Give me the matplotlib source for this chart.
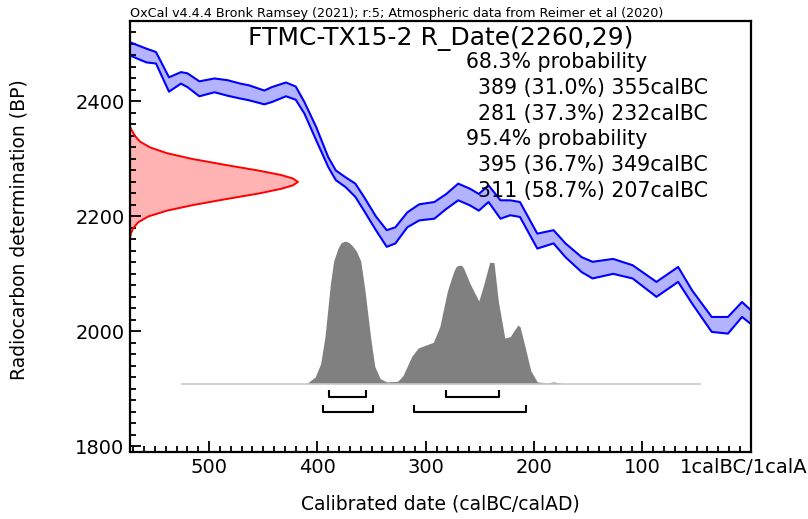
import matplotlib
matplotlib.use("Agg")
import matplotlib.pyplot as plt
import numpy as np

# calibration curve (IntCal20): calBC, upper/lower BP
cal_years = [573, 558, 549, 537, 526, 520, 509, 495, 483, 471, 463, 449, 442, 429,
             420, 412, 401, 390, 383, 374, 365, 357, 346, 336, 328, 317, 306, 292,
             281, 270, 259, 251, 242, 231, 222, 213, 197, 182, 171, 156, 146, 127,
             109, 87, 67, 54, 36, 21, 8, 0]
cal_upper = [2503, 2492, 2486, 2442, 2451, 2449, 2435, 2440, 2437, 2431, 2428, 2419,
             2425, 2433, 2426, 2399, 2355, 2303, 2280, 2268, 2257, 2234, 2200, 2176,
             2181, 2207, 2221, 2225, 2239, 2257, 2248, 2239, 2254, 2228, 2228, 2225,
             2170, 2176, 2153, 2129, 2121, 2126, 2115, 2086, 2112, 2071, 2025, 2025,
             2051, 2037]
cal_lower = [2480, 2468, 2466, 2417, 2431, 2425, 2409, 2416, 2410, 2405, 2402, 2395,
             2399, 2409, 2403, 2379, 2332, 2286, 2263, 2251, 2234, 2210, 2176, 2147,
             2153, 2181, 2193, 2196, 2213, 2228, 2219, 2210, 2225, 2196, 2202, 2199,
             2144, 2153, 2129, 2103, 2092, 2100, 2092, 2060, 2086, 2048, 1999, 1996,
             2025, 2013]

# radiocarbon measurement R_Date(2260,29): BP and relative probability
c14_bp = [2356, 2350, 2340, 2330, 2320, 2310, 2300, 2290, 2280, 2272, 2266, 2260,
          2254, 2248, 2240, 2230, 2220, 2210, 2200, 2190, 2180, 2170, 2162]
c14_prob = [0.0, 0.01, 0.03, 0.06, 0.12, 0.22, 0.37, 0.56, 0.76, 0.90, 0.97, 1.0,
            0.97, 0.90, 0.77, 0.57, 0.38, 0.22, 0.11, 0.05, 0.02, 0.005, 0.0]

# calibrated probability distribution: calBC and relative probability
post_years = [525, 410, 402, 397, 393, 388, 385, 381, 378, 374, 371, 368, 364, 360,
              356, 351, 347, 342, 336, 326, 321, 313, 307, 300, 293, 287, 280, 274,
              272, 270, 267, 265, 259, 251, 247, 241, 237, 233, 227, 222, 215, 213,
              209, 203, 197, 188, 182, 173, 47]
post_prob = [0.0, 0.0, 0.047, 0.14, 0.33, 0.70, 0.86, 0.95, 0.99, 1.0, 0.99, 0.97,
             0.93, 0.86, 0.65, 0.33, 0.12, 0.035, 0.012, 0.016, 0.056, 0.19, 0.25,
             0.27, 0.29, 0.40, 0.65, 0.79, 0.82, 0.83, 0.83, 0.81, 0.70, 0.58, 0.68,
             0.85, 0.85, 0.58, 0.32, 0.33, 0.41, 0.40, 0.28, 0.09, 0.012, 0.005,
             0.012, 0.0, 0.0]

# ranges (from, to) calBC
ranges_68 = [(389, 355), (281, 232)]
ranges_95 = [(395, 349), (311, 207)]

summary_lines = ["68.3% probability",
                 "389 (31.0%) 355calBC",
                 "281 (37.3%) 232calBC",
                 "95.4% probability",
                 "395 (36.7%) 349calBC",
                 "311 (58.7%) 207calBC"]

x_left, x_right = 573, 0
y_bottom, y_top = 1790, 2540

fig = plt.figure(figsize=(8.08, 5.19), dpi=100)
ax = fig.add_axes([130 / 808, 67 / 519, 620.7 / 808, 431 / 519])

# calibration curve band
ax.fill_between(cal_years, cal_lower, cal_upper, color=(0.7, 0.7, 1.0), lw=0)
ax.plot(cal_years, cal_upper, color="blue", lw=1.5)
ax.plot(cal_years, cal_lower, color="blue", lw=1.5)

# measurement on the y axis
red_w = 155
red_x = [x_left - p * red_w for p in c14_prob]
ax.fill_betweenx(c14_bp, x_left, red_x, color=(1.0, 0.7, 0.7), lw=0)
ax.plot(red_x, c14_bp, color="red", lw=1.4)

# posterior
base = 1909
h = 248
ax.plot([post_years[0], post_years[-1]], [base, base], color="#c8c8c8", lw=1.2)
ax.fill_between(post_years, base, [base + p * h for p in post_prob],
                color="#808080", lw=0)

# range brackets
def bracket(r, y):
    a, b = r
    ax.plot([a, a, b, b], [y + 10, y, y, y + 10], color="black", lw=1.5)

for r in ranges_68:
    bracket(r, 1886)
for r in ranges_95:
    bracket(r, 1860)

ax.set_xlim(x_left, x_right)
ax.set_ylim(y_bottom, y_top)

ax.set_xticks([500, 400, 300, 200, 100, 0])
ax.set_xticklabels(["500", "400", "300", "200", "100", "1calBC/1calAD"])
ax.set_xticks(np.arange(570, -1, -10), minor=True)
ax.set_yticks([1800, 2000, 2200, 2400])
ax.set_yticks(np.arange(1800, 2541, 20), minor=True)
ax.tick_params(which="both", direction="in", width=1.3, labelsize=14, top=False, right=False)
ax.tick_params(which="major", length=8, pad=4)
ax.tick_params(which="minor", length=4.5)
for s in ax.spines.values():
    s.set_linewidth(1.6)

ax.set_ylabel("Radiocarbon determination (BP)", fontsize=13.5)
ax.yaxis.set_label_coords(-0.163, 0.515)
ax.set_xlabel("Calibrated date (calBC/calAD)", fontsize=13.5)
ax.xaxis.set_label_coords(0.5, -0.0975)

ax.text(0.5, 0.96, "FTMC-TX15-2 R_Date(2260,29)", transform=ax.transAxes,
        ha="center", va="center", fontsize=18)
for i, line in enumerate(summary_lines):
    xx = 0.542 if "probability" in line else 0.561
    ax.text(xx, (452 - 62 - i * 25.8) / 431, line, transform=ax.transAxes,
            ha="left", va="center", fontsize=14.8)

fig.text(130 / 808, 1 - 13 / 519,
         "OxCal v4.4.4 Bronk Ramsey (2021); r:5; Atmospheric data from Reimer et al (2020)",
         ha="left", va="center", fontsize=9.2)

fig.savefig("out.png", dpi=100)
